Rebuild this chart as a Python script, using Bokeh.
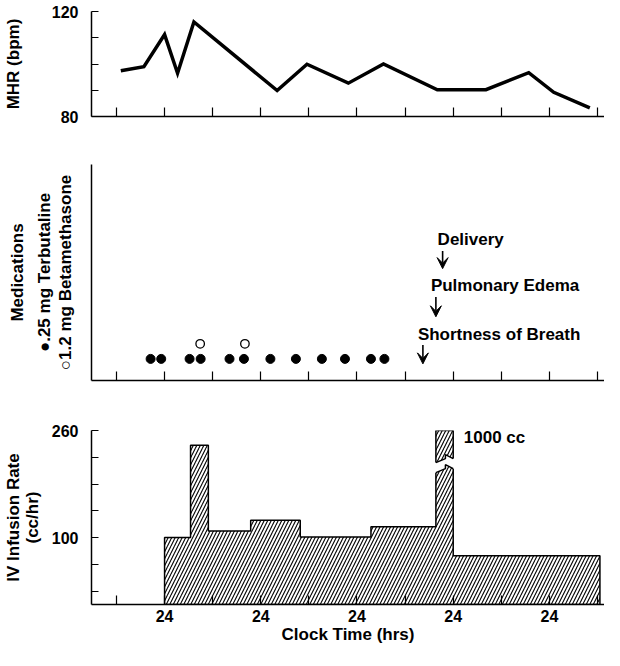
import numpy as np
from bokeh.plotting import figure
from bokeh.layouts import column
from bokeh.models import Range1d, FixedTicker, LinearAxis, Arrow, VeeHead, ColumnDataSource
from bokeh.core.properties import value
from bokeh.embed import file_html
from bokeh.resources import INLINE

FONT = "Liberation Sans"

# ---------------- data ----------------
clock_ticks = [0, 1, 2, 3, 4, 5, 6, 7, 8, 9, 10]
clock_tick_labels = {1: "24", 3: "24", 5: "24", 7: "24", 9: "24"}

mhr_time = [0.09, 0.57, 1.00, 1.27, 1.61, 3.34, 3.96, 4.82, 5.55, 6.67, 7.68, 8.57, 9.09, 9.84]
mhr_bpm = [97.4, 99.0, 111.2, 96.5, 116.0, 89.9, 99.9, 92.7, 100.0, 90.2, 90.2, 96.7, 89.2, 83.3]
mhr_ticks = [80, 90, 100, 110, 120]
mhr_tick_labels = {80: "80", 120: "120"}

terbutaline_time = [0.71, 0.93, 1.52, 1.75, 2.35, 2.65, 3.20, 3.73, 4.27, 4.75, 5.29, 5.57]
betamethasone_time = [1.74, 2.67]

event_names = ["Delivery", "Pulmonary Edema", "Shortness of Breath"]
event_time = [6.78, 6.64, 6.37]

iv_edges = [1.00, 1.54, 1.91, 2.79, 3.82, 5.29, 6.64, 7.00, 10.05]
iv_rate = [100, 238, 110, 126, 101, 116, 1000, 73]
iv_ticks = [20, 60, 100, 140, 180, 220, 260]
iv_tick_labels = {100: "100", 260: "260"}
iv_note = "1000 cc"

# ---------------- layout constants ----------------
W = 604
LEFT = 90
xr = Range1d(-0.519, 10.145)


def style_label(ax, text, standoff):
    ax.axis_label = text
    ax.axis_label_standoff = standoff
    ax.axis_label_text_font = FONT
    ax.axis_label_text_font_style = "bold"
    ax.axis_label_text_font_size = "17px"
    ax.axis_label_text_color = "black"


def label_axis(p, text, standoff):
    ax = LinearAxis(ticker=FixedTicker(ticks=[]), axis_line_color=None,
                    major_tick_in=0, major_tick_out=0, minor_tick_in=0, minor_tick_out=0,
                    major_label_standoff=0)
    style_label(ax, text, standoff)
    p.add_layout(ax, "left")


def base(h, yr, top, bottom):
    p = figure(width=W, height=h, x_range=xr, y_range=yr, output_backend="svg",
               toolbar_location=None, min_border_left=LEFT, min_border_right=0,
               min_border_top=top, min_border_bottom=bottom, title=None)
    p.grid.visible = False
    p.outline_line_color = None
    ax = p.xaxis[0]
    ax.ticker = FixedTicker(ticks=clock_ticks)
    ax.major_tick_in = 9
    ax.major_tick_out = 0
    ax.minor_tick_in = 0
    ax.minor_tick_out = 0
    ax.axis_line_width = 1.5
    ax.axis_line_color = "black"
    ax.major_tick_line_width = 1.2
    ax.major_tick_line_color = "black"
    ay = p.yaxis[0]
    ay.minor_tick_in = 0
    ay.minor_tick_out = 0
    ay.major_tick_out = 0
    ay.major_tick_in = 7
    ay.axis_line_width = 1.5
    ay.axis_line_color = "black"
    ay.major_tick_line_width = 1.2
    ay.major_tick_line_color = "black"
    ay.major_label_standoff = 13
    ay.major_label_text_font = FONT
    ay.major_label_text_font_style = "bold"
    ay.major_label_text_font_size = "16px"
    ay.major_label_text_color = "black"
    return p


# ---------------- top: maternal heart rate ----------------
p1 = base(140, Range1d(80, 120), 11, 24)
p1.xaxis.major_label_overrides = {t: "" for t in clock_ticks}
p1.yaxis.ticker = FixedTicker(ticks=mhr_ticks)
p1.yaxis.major_label_overrides = {t: mhr_tick_labels.get(t, "") for t in mhr_ticks}
style_label(p1.yaxis[0], "MHR (bpm)", 26)
p1.line(mhr_time, mhr_bpm, line_color="black", line_width=3.5, line_join="miter")

# ---------------- middle: medications ----------------
p2 = base(266, Range1d(0, 10), 24, 26)
p2.xaxis.major_label_overrides = {t: "" for t in clock_ticks}
p2.yaxis.ticker = FixedTicker(ticks=[])
p2.yaxis.major_label_standoff = 0
style_label(p2.yaxis[0], "\u25cb1.2 mg Betamethasone", 17)
label_axis(p2, "\u25cf.25 mg Terbutaline", -1)
label_axis(p2, "Medications", 5)

p2.scatter(terbutaline_time, [1.0] * len(terbutaline_time), size=9,
           fill_color="black", line_color="black")
p2.scatter(betamethasone_time, [1.7] * len(betamethasone_time), size=8.5,
           fill_color="white", line_color="black", line_width=1.3)

arrow_top = [6.0, 3.86, 1.64]
arrow_tip = [5.18, 2.95, 0.77]
text_y = [6.55, 4.41, 2.14]
asrc = ColumnDataSource(dict(x=event_time, y0=arrow_top, y1=arrow_tip))
p2.add_layout(Arrow(end=VeeHead(size=11, fill_color="black", line_color="black"),
                    x_start="x", y_start="y0", x_end="x", y_end="y1",
                    line_width=1.6, line_color="black", source=asrc))
p2.text(x=event_time, y=text_y, text=event_names, text_font=value(FONT),
        text_font_style="bold", text_font_size="17px", text_align="left",
        text_baseline="middle", x_offset=-5, text_color="black")

# ---------------- bottom: IV infusion rate ----------------
ymax = 260
p3 = base(244, Range1d(0, ymax), 24, 46)
p3.xaxis.major_label_overrides = {t: clock_tick_labels.get(t, "") for t in clock_ticks}
p3.xaxis.major_label_standoff = 5
p3.xaxis.major_label_text_font = FONT
p3.xaxis.major_label_text_font_style = "bold"
p3.xaxis.major_label_text_font_size = "16px"
p3.xaxis.major_label_text_color = "black"
style_label(p3.xaxis[0], "Clock Time (hrs)", 0)
p3.yaxis.ticker = FixedTicker(ticks=iv_ticks)
p3.yaxis.major_label_overrides = {t: iv_tick_labels.get(t, "") for t in iv_ticks}
style_label(p3.yaxis[0], "(cc/hr)", 7)
label_axis(p3, "IV Infusion Rate", -3)

shown = [min(r, ymax) for r in iv_rate]
px, py = [iv_edges[0]], [0]
for i, r in enumerate(shown):
    px += [iv_edges[i], iv_edges[i + 1]]
    py += [r, r]
px.append(iv_edges[-1])
py.append(0)
p3.patch(px, py, fill_color="white", hatch_pattern="/", hatch_color="black",
         hatch_scale=7, hatch_weight=1.1, line_color="black", line_width=1.5)

# axis break on the off-scale segment
k = int(np.argmax(iv_rate))
x0, x1 = iv_edges[k], iv_edges[k + 1]
fr = [0.0, 0.55, 0.55, 1.0]
dv = [0, 6, 12, 6]
v_hi, v_lo = 212, 197
bx = [x0 + f * (x1 - x0) for f in fr]
hi = [v_hi + d for d in dv]
lo = [v_lo + d for d in dv]
p3.patch([x0 - 0.03] + bx + [x1 + 0.03] + [x1 + 0.03] + bx[::-1] + [x0 - 0.03],
         [lo[0]] + lo + [lo[-1]] + [hi[-1]] + hi[::-1] + [hi[0]],
         fill_color="white", line_color=None)
p3.line(bx, hi, line_color="black", line_width=1.5)
p3.line(bx, lo, line_color="black", line_width=1.5)

p3.text(x=[7.22], y=[249.5], text=[iv_note], text_font=value(FONT),
        text_font_style="bold", text_font_size="17px", text_align="left",
        text_baseline="middle", text_color="black")

layout = column(p1, p2, p3, spacing=0)
open("out.html", "w").write(file_html(layout, INLINE))
